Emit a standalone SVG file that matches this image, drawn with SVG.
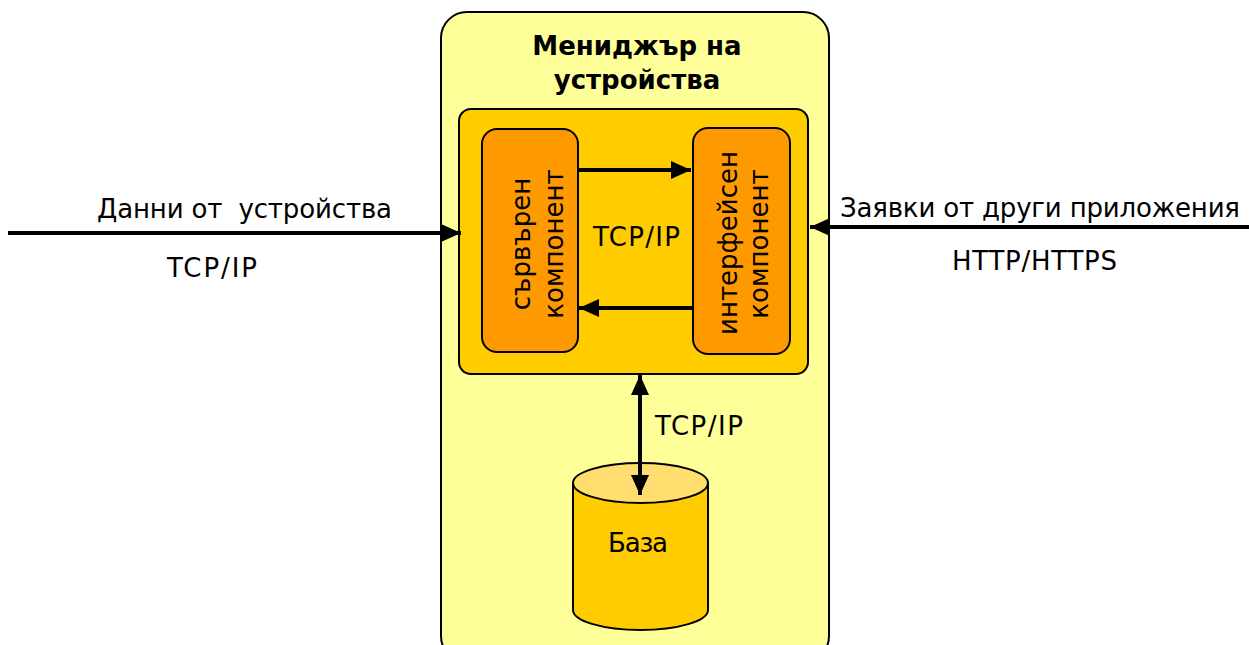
<svg xmlns="http://www.w3.org/2000/svg" width="1249" height="645" viewBox="0 0 1249 645">
  <style>
    text { font-family: "DejaVu Sans", Verdana, sans-serif; fill: #000; }
    .lbl { font-size: 26px; }
    .title { font-size: 26px; font-weight: bold; }
    .edge { stroke: #000; stroke-width: 4; fill: none; }
    .box { stroke: #000; stroke-width: 2; }
  </style>
  <defs>
    <marker id="ah" viewBox="0 0 10 10" refX="10" refY="5" markerWidth="5" markerHeight="4.5" orient="auto-start-reverse" markerUnits="strokeWidth" preserveAspectRatio="none">
      <path d="M0,0 L10,5 L0,10 z" fill="#000"/>
    </marker>
  </defs>
  <rect width="1249" height="645" fill="#fff"/>

  <g id="manager">
    <rect class="box" x="441" y="12" width="388" height="650" rx="26" fill="#FFFF99"/>
    <text class="title" x="637" y="55" text-anchor="middle">Мениджър на</text>
    <text class="title" x="637" y="89" text-anchor="middle">устройства</text>
  </g>

  <g id="core">
    <rect class="box" x="459" y="109" width="349" height="265" rx="12" fill="#FFCC00"/>
  </g>

  <g id="server">
    <rect class="box" x="482" y="129" width="96" height="223" rx="15" fill="#FF9900"/>
    <text class="lbl" transform="translate(530,244) rotate(-90)" text-anchor="middle">сървърен</text>
    <text class="lbl" transform="translate(563,244) rotate(-90)" text-anchor="middle">компонент</text>
  </g>

  <g id="interface">
    <rect class="box" x="693" y="128" width="97" height="226" rx="15" fill="#FF9900"/>
    <text class="lbl" transform="translate(737,243) rotate(-90)" text-anchor="middle">интерфейсен</text>
    <text class="lbl" transform="translate(768,244) rotate(-90)" text-anchor="middle">компонент</text>
  </g>

  <g id="database">
    <path class="box" d="M573,483 L573,610 A67.5,20 0 0 0 708,610 L708,483" fill="#FFCC00"/>
    <ellipse class="box" cx="640.5" cy="483" rx="67.5" ry="20" fill="#FFDD6E"/>
    <text class="lbl" x="608" y="552" textLength="60">База</text>
  </g>

  <g id="connectors">
    <line class="edge" x1="8" y1="233" x2="461" y2="233" marker-end="url(#ah)"/>
    <line class="edge" x1="1249" y1="227" x2="810" y2="227" marker-end="url(#ah)"/>
    <line class="edge" x1="578" y1="170" x2="691" y2="170" marker-end="url(#ah)"/>
    <line class="edge" x1="692" y1="308" x2="579" y2="308" marker-end="url(#ah)"/>
    <line class="edge" x1="640" y1="375" x2="640" y2="495" marker-start="url(#ah)" marker-end="url(#ah)"/>
  </g>

  <g id="labels">
    <text class="lbl" x="97" y="218" textLength="295" xml:space="preserve">Данни от  устройства</text>
    <text class="lbl" x="167" y="277" textLength="90">TCP/IP</text>
    <text class="lbl" x="840" y="217" textLength="400">Заявки от други приложения</text>
    <text class="lbl" x="952" y="270" textLength="165">HTTP/HTTPS</text>
    <text class="lbl" x="593" y="246" textLength="87">TCP/IP</text>
    <text class="lbl" x="655" y="435" textLength="88">TCP/IP</text>
  </g>
</svg>
